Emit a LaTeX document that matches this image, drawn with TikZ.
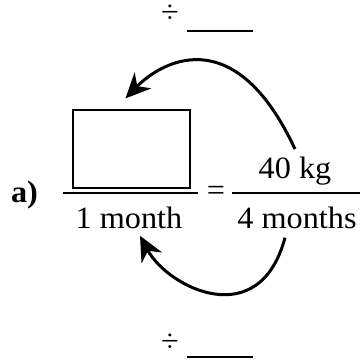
\documentclass[tikz,border=0pt]{standalone}
\usepackage{fontspec}
\setmainfont{Liberation Serif}[FakeStretch=1.04]
\usetikzlibrary{arrows.meta}

\begin{document}
\begin{tikzpicture}
[
  x=0.5pt, y=-0.5pt,
  txt/.style={inner sep=0pt, anchor=base, font=\fontsize{15.5}{18}\selectfont},
  ansbox/.style={rectangle,draw=black,line width=0.6pt,minimum width=58.5pt,minimum height=39pt,inner sep=0pt},
  bar/.style={draw=black,line width=0.75pt},
  hop/.style={line width=1.5pt,-{Stealth[length=12.5pt,width=11.5pt,inset=4pt]}},
]
\useasboundingbox (0,0) rectangle (360,360);

\node[txt] (divtop) at (170,22){÷};
\draw[bar] (187,31) -- (253,31);

\node[ansbox] (box) at (131.5,149){};
\node[txt,font=\fontsize{15.5}{18}\selectfont\bfseries] (lbla) at (24.5,202){a)};
\draw[bar] (63,193) -- (198,193);
\node[txt] (mone) at (129,228){1 month};
\node[txt] (eq) at (216,200){=};
\node[txt] (kg) at (295,178){40 kg};
\draw[bar] (232,193) -- (360,193);
\node[txt] (mfour) at (297,228){4 months};

% arrows
\draw[hop] ([yshift=3.5pt]kg.north) .. controls +(115:73pt) and +(46:24pt) .. ([shift={(-3pt,5.5pt)}]box.north);
\draw[hop] ([shift={(-6pt,-4.5pt)}]mfour.south) .. controls +(255:50pt) and +(298:29pt) .. ([shift={(5.5pt,-3.5pt)}]mone.south);

\node[txt] (divbot) at (170,351){÷};
\draw[bar] (187,357) -- (253,357);
\end{tikzpicture}
\end{document}
